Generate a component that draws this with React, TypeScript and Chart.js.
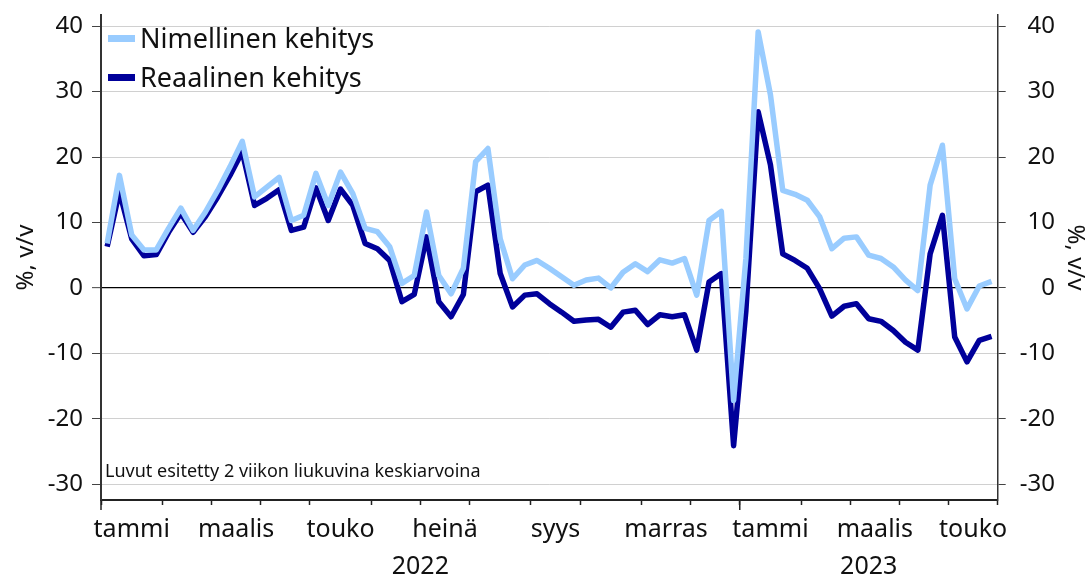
import React, { useEffect, useRef } from 'react';
import { Chart, registerables } from 'chart.js';
Chart.register(...registerables);

// Weeks in each month (Jan 2022 .. May 2023), month names, label visibility
const weeksPerMonth = [5, 4, 4, 4, 5, 4, 4, 5, 4, 5, 4, 4, 5, 4, 4, 4, 4];
const monthNames = ['tammi', 'helmi', 'maalis', 'huhti', 'touko', 'kesä', 'heinä', 'elo', 'syys', 'loka', 'marras', 'joulu', 'tammi', 'helmi', 'maalis', 'huhti', 'touko'];
const shownMonth = [true, false, true, false, true, false, true, false, true, false, true, false, true, false, true, false, true];
const yearLabels = ['2022', '2023'];
const monthsInYear = [12, 5];
const yTicks = [-30, -20, -10, 0, 10, 20, 30, 40];

const nominalLabel = 'Nimellinen kehitys';
const realLabel = 'Reaalinen kehitys';
const footnote = 'Luvut esitetty 2 viikon liukuvina keskiarvoina';
const axisTitle = '%, v/v';

const nominal = [6.8, 17.2, 8.1, 5.8, 5.8, 9.1, 12.2, 8.8, 11.6, 14.9,
  18.5, 22.4, 13.9, 15.4, 16.9, 10.3, 11.1, 17.5, 12.6, 17.7,
  14.4, 9.1, 8.6, 6.3, 0.7, 1.9, 11.6, 1.9, -0.9, 3.0,
  19.3, 21.3, 7.5, 1.4, 3.5, 4.2, 3.0, 1.7, 0.4, 1.2,
  1.5, 0.0, 2.4, 3.7, 2.5, 4.3, 3.8, 4.5, -1.1, 10.3,
  11.7, -17.2, 4.5, 39.1, 29.5, 14.9, 14.3, 13.4, 10.9, 6.0,
  7.6, 7.8, 5.0, 4.5, 3.2, 1.2, -0.4, 15.7, 21.8, 1.4,
  -3.2, 0.3, 1.0];

const real = [6.3, 14.7, 7.5, 4.9, 5.1, 8.5, 11.4, 8.5, 10.9, 13.9,
  17.2, 20.8, 12.6, 13.7, 15.0, 8.8, 9.3, 15.3, 10.3, 15.1,
  12.6, 6.8, 6.0, 4.2, -2.1, -1.0, 7.8, -2.1, -4.4, -1.0,
  14.7, 15.7, 2.2, -2.9, -1.1, -0.9, -2.4, -3.7, -5.1, -4.9,
  -4.8, -6.0, -3.7, -3.4, -5.6, -4.1, -4.4, -4.1, -9.5, 0.9,
  2.2, -24.1, -3.5, 26.9, 18.8, 5.2, 4.2, 3.0, -0.1, -4.3,
  -2.8, -2.4, -4.7, -5.1, -6.5, -8.3, -9.5, 5.2, 11.1, -7.5,
  -11.3, -8.0, -7.4];

const LIGHT = '#99ccff';
const DARK = '#00009a';
const FONT = "'Noto Sans', sans-serif";

export default function App() {
  const canvasRef = useRef<HTMLCanvasElement | null>(null);

  useEffect(() => {
    if (!canvasRef.current) return;

    // month boundaries (in weeks)
    const boundaries: number[] = [0];
    weeksPerMonth.forEach((w) => boundaries.push(boundaries[boundaries.length - 1] + w));
    const totalWeeks = boundaries[boundaries.length - 1];
    const centers = weeksPerMonth.map((w, i) => boundaries[i] + w / 2);
    const labelAt = new Map<number, string>();
    centers.forEach((c, i) => { if (shownMonth[i]) labelAt.set(c, monthNames[i]); });
    const boundarySet = new Set(boundaries);

    // year boundaries
    const yearStarts: number[] = [];
    let m = 0;
    monthsInYear.forEach((n) => { yearStarts.push(boundaries[m]); m += n; });
    const yearEnds = monthsInYear.map((_, i) => (i + 1 < yearStarts.length ? yearStarts[i + 1] : totalWeeks));
    const yearCenters = yearStarts.map((s, i) => (s + yearEnds[i]) / 2);

    const toPts = (arr: number[]) => arr.map((v, i) => ({ x: i + 0.5, y: v }));

    const yearTickPlugin = {
      id: 'yearTicks',
      afterDraw(chart: any) {
        const sx = chart.scales.x;
        const ctx = chart.ctx;
        ctx.save();
        ctx.strokeStyle = '#222';
        ctx.lineWidth = 1.5;
        yearStarts.forEach((s) => {
          const px = sx.getPixelForValue(s);
          ctx.beginPath();
          ctx.moveTo(px, sx.top);
          ctx.lineTo(px, sx.top + 10);
          ctx.stroke();
        });
        ctx.restore();
      },
    };

    const noPad = (scale: any) => {
      scale.paddingTop = 0;
      scale.paddingBottom = 0;
    };

    const chart = new Chart(canvasRef.current, {
      type: 'line',
      data: {
        datasets: [
          {
            label: nominalLabel,
            data: toPts(nominal),
            borderColor: LIGHT,
            backgroundColor: LIGHT,
            borderWidth: 5.5,
            pointRadius: 0,
            tension: 0,
            borderJoinStyle: 'round',
            xAxisID: 'x',
            yAxisID: 'y',
          },
          {
            label: realLabel,
            data: toPts(real),
            borderColor: DARK,
            backgroundColor: DARK,
            borderWidth: 5.5,
            pointRadius: 0,
            tension: 0,
            borderJoinStyle: 'round',
            xAxisID: 'x',
            yAxisID: 'y',
          },
        ],
      },
      options: {
        animation: false,
        responsive: true,
        maintainAspectRatio: false,
        layout: { padding: { top: 15, left: 0, right: 34, bottom: 0 } },
        plugins: { legend: { display: false }, tooltip: { enabled: false } },
        scales: {
          x: {
            type: 'linear',
            position: 'bottom',
            min: 0,
            max: totalWeeks,
            weight: 0,
            afterBuildTicks: (scale: any) => {
              const t = boundaries.map((v) => ({ value: v }));
              labelAt.forEach((_, c) => t.push({ value: c }));
              t.sort((a, b) => a.value - b.value);
              scale.ticks = t;
            },
            afterFit: (scale: any) => { scale.height = 45; },
            grid: {
              drawOnChartArea: false,
              drawTicks: true,
              tickLength: 5,
              tickWidth: 1.5,
              tickColor: (ctx: any) => (ctx.tick && boundarySet.has(ctx.tick.value) ? '#222' : 'rgba(0,0,0,0)'),
            },
            border: { display: true, color: '#222', width: 2 },
            ticks: {
              autoSkip: false,
              maxRotation: 0,
              minRotation: 0,
              padding: 10,
              color: '#111',
              font: { family: FONT, size: 25 },
              callback: (value: any) => labelAt.get(Number(value)) ?? '',
            },
          },
          xYear: {
            type: 'linear',
            position: 'bottom',
            min: 0,
            max: totalWeeks,
            weight: 1,
            afterBuildTicks: (scale: any) => {
              scale.ticks = yearCenters.map((v) => ({ value: v }));
            },
            afterFit: (scale: any) => { scale.height = 37; },
            grid: { display: false, drawTicks: false },
            border: { display: false },
            ticks: {
              autoSkip: false,
              maxRotation: 0,
              padding: 7,
              color: '#111',
              font: { family: FONT, size: 25 },
              callback: (value: any) => {
                const idx = yearCenters.indexOf(Number(value));
                return idx >= 0 ? yearLabels[idx] : '';
              },
            },
          },
          y: {
            type: 'linear',
            position: 'left',
            min: -32.4,
            max: 41.7,
            afterBuildTicks: (scale: any) => { scale.ticks = yTicks.map((v) => ({ value: v })); },
            afterFit: (scale: any) => { scale.width = 101; noPad(scale); },
            grid: {
              color: (ctx: any) => (ctx.tick && ctx.tick.value === 0 ? '#000' : '#d0d0d0'),
              lineWidth: (ctx: any) => (ctx.tick && ctx.tick.value === 0 ? 1.3 : 1),
              tickColor: '#444',
              tickLength: 9,
              tickWidth: 1,
            },
            border: { display: true, color: '#333', width: 2 },
            ticks: {
              padding: 9,
              color: '#111',
              font: { family: FONT, size: 24 },
              callback: (v: any) => String(v),
            },
            title: {
              display: true,
              text: axisTitle,
              color: '#111',
              font: { family: FONT, size: 24, lineHeight: 1 },
              padding: { top: 14, bottom: 0 },
            },
          },
          y2: {
            type: 'linear',
            position: 'right',
            min: -32.4,
            max: 41.7,
            afterBuildTicks: (scale: any) => { scale.ticks = yTicks.map((v) => ({ value: v })); },
            afterFit: (scale: any) => { scale.width = 57.3; noPad(scale); },
            grid: {
              drawOnChartArea: false,
              tickColor: '#444',
              tickLength: 8,
              tickWidth: 1,
            },
            border: { display: true, color: '#333', width: 1.5 },
            ticks: {
              padding: 11,
              crossAlign: 'far',
              color: '#111',
              font: { family: FONT, size: 24 },
              callback: (v: any) => String(v),
            },
            title: {
              display: true,
              text: axisTitle,
              color: '#111',
              font: { family: FONT, size: 24, lineHeight: 1 },
              padding: { top: -32, bottom: 0 },
            },
          },
        },
      } as any,
      plugins: [yearTickPlugin],
    });

    return () => chart.destroy();
  }, []);

  const legendRow = (color: string, text: string, top: number) => (
    <div style={{ position: 'absolute', left: 108, top, display: 'flex', alignItems: 'center', height: 32 }}>
      <div style={{ width: 27, height: 7, background: color, marginRight: 5 }} />
      <span style={{ fontFamily: FONT, fontSize: 27, lineHeight: '32px', color: '#111', whiteSpace: 'nowrap' }}>{text}</span>
    </div>
  );

  return (
    <div style={{ position: 'fixed', left: 0, top: 0, width: 1089, height: 582, background: '#fff' }}>
      <canvas ref={canvasRef} style={{ width: 1089, height: 582 }} />
      {legendRow(LIGHT, nominalLabel, 22)}
      {legendRow(DARK, realLabel, 61)}
      <div style={{ position: 'absolute', left: 105, top: 459, fontFamily: FONT, fontSize: 18, lineHeight: '22px', color: '#111', whiteSpace: 'nowrap' }}>
        {footnote}
      </div>
    </div>
  );
}
